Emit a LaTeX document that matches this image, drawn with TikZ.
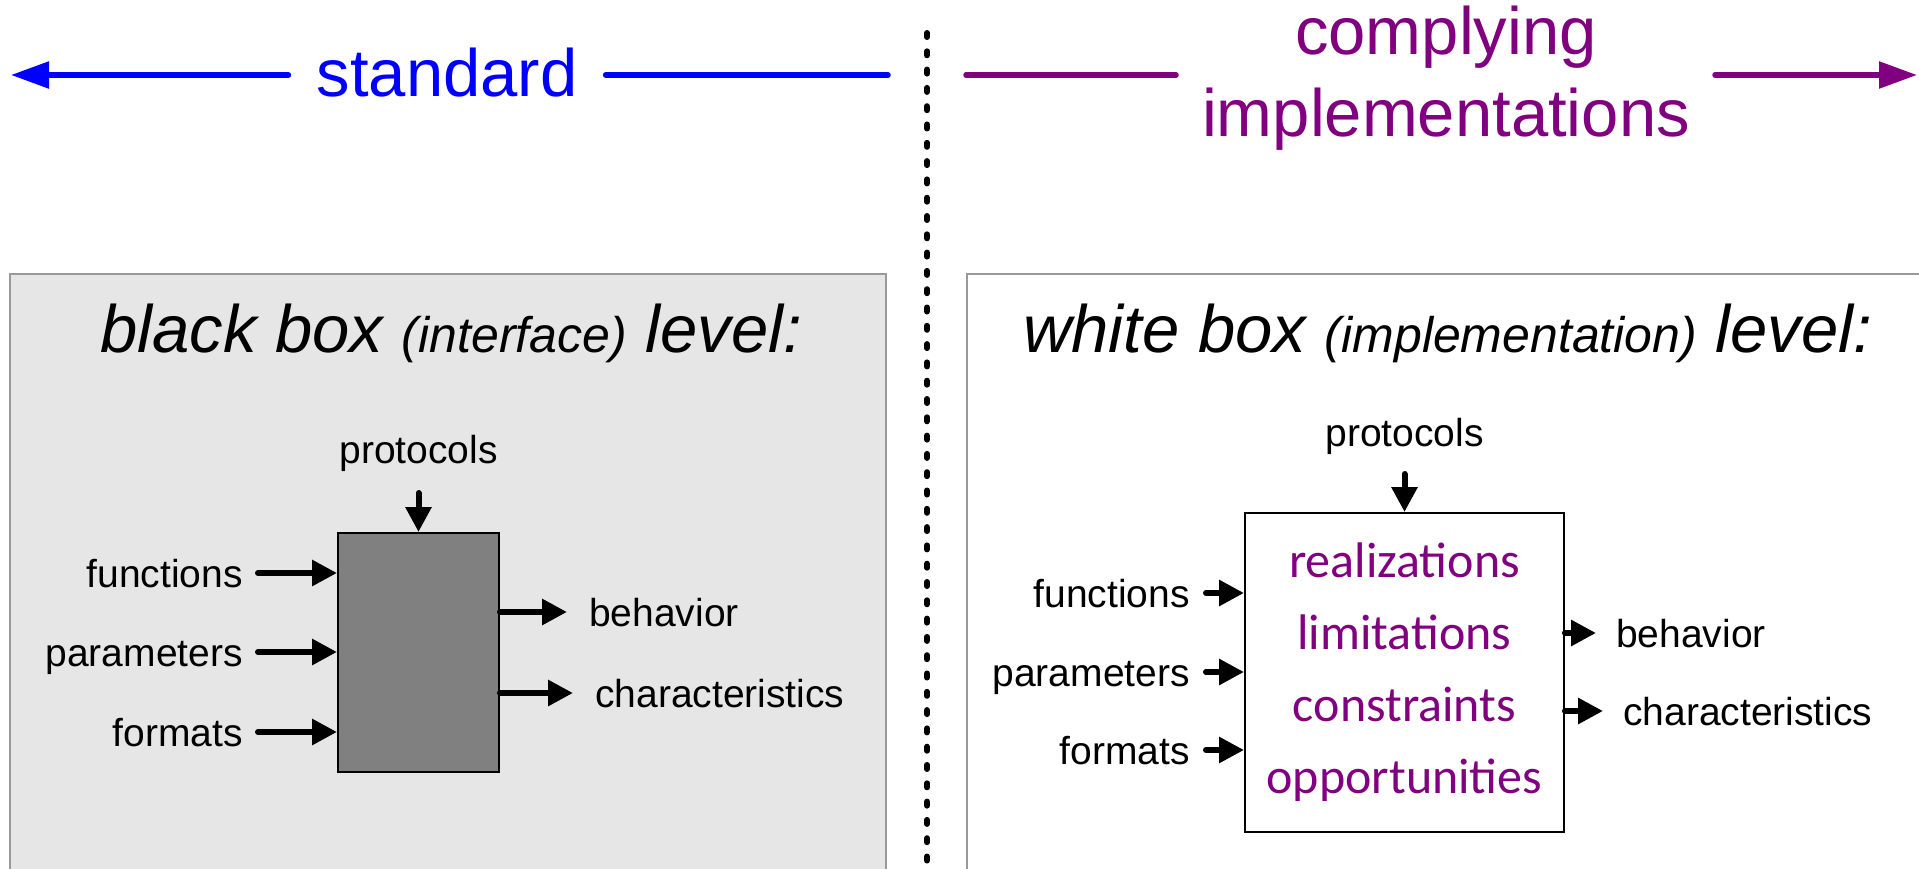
\documentclass[tikz,border=0pt]{standalone}
\usepackage{fontspec}
\setmainfont{Liberation Sans}
\newfontfamily\termfont{Carlito}
\usepackage{xcolor}
\usepackage{tikz}
\usetikzlibrary{positioning, arrows.meta}

\definecolor{stdblue}{HTML}{0000FF}
\definecolor{implpurple}{HTML}{800080}
\definecolor{panelgray}{HTML}{E6E6E6}
\definecolor{panelline}{HTML}{999999}
\definecolor{boxgray}{HTML}{808080}

\tikzset{
  bigtext/.style={font=\fontsize{67}{82}\selectfont, inner sep=0pt},
  titletext/.style={font=\fontsize{67}{80}\itshape, inner sep=0pt, anchor=base west},
  lbl/.style={font=\fontsize{39}{45}\selectfont, inner sep=0pt, text height=28pt, text depth=0pt},
  flow/.style={line width=6pt, line cap=round, -{Triangle[length=25pt,width=25pt]}},
  headline/.style={line width=5.5pt, line cap=round},
  divider/.style={line width=6pt, line cap=round, dash pattern=on 4pt off 14.3pt},
}

\begin{document}
\begin{tikzpicture}[x=1pt, y=-1pt]
    \useasboundingbox (0,0) rectangle (1919,869);
    \clip (0,0) rectangle (1919,869);

    % headings over the two halves
    \node[bigtext, text=stdblue, text height=44pt, text depth=0pt, inner xsep=28pt] (std) at (447,75) {standard};
    \coordinate (stdL) at (11,75);
    \coordinate (stdR) at (888,75);
    \draw[headline, stdblue, -{Triangle[length=38pt,width=26pt]}] (std.west) -- (stdL);
    \draw[headline, stdblue] (std.east) -- (stdR);

    \node[bigtext, text=implpurple, anchor=base] (cmp) at (1446,55) {complying};
    \node[bigtext, text=implpurple, anchor=base] (impl) at (1446,137) {implementations};
    \coordinate (implLa) at (966,75);
    \coordinate (implLb) at (1176,75);
    \coordinate (implRa) at (1715,75);
    \coordinate (implRb) at (1917,75);
    \draw[headline, implpurple] (implLa) -- (implLb);
    \draw[headline, implpurple, -{Triangle[length=38pt,width=26pt]}] (implRa) -- (implRb);

    % dotted border between standard and implementations
    \coordinate (divTop) at (927,33);
    \coordinate (divBot) at (927,880);
    \draw[divider] (divTop) -- (divBot);

    % the two panels
    \draw[panelline, fill=panelgray, line width=2.5pt] (10,274) rectangle (886,900);
    \draw[panelline, fill=white, line width=2.5pt] (967,274) rectangle (1940,900);

    \node[titletext] (btitle) at (100,352) {black box {\fontsize{50}{60}\selectfont (interface)} level:};
    \node[titletext] (wtitle) at (1023,352) {white box {\fontsize{50}{60}\selectfont (implementation)} level:};

    % black box
    \node[draw=black, fill=boxgray, line width=2pt, minimum width=161pt, minimum height=239pt, inner sep=0pt] (bbox) at (418.5,652.5) {};
    \node[lbl, anchor=base] (bproto) at (418.5,463) {protocols};
    \draw[flow] ([yshift=-30pt]bproto.base) -- (bbox.north);
    \foreach \nm/\txt/\y in {bfun/functions/573, bpar/parameters/652, bfor/formats/732} {
        \node[lbl, anchor=east] (\nm) at (243,\y) {\txt};
        \draw[flow] ([xshift=15pt]\nm.east) -- (bbox.west |- \nm.east);
    };
    \foreach \nm/\txt/\x/\y in {bbeh/behavior/589/612, bchr/characteristics/595/693} {
        \node[lbl, anchor=west] (\nm) at (\x,\y) {\txt};
        \draw[flow] (bbox.east |- \nm.west) -- ([xshift=-22pt]\nm.west);
    };

    % white box
    \node[draw=black, fill=white, line width=2pt, minimum width=319pt, minimum height=319pt, inner sep=0pt,
          align=center, text=implpurple, font=\termfont\fontsize{50}{72}\selectfont] (wbox) at (1404.5,672.5)
          {realizations\\limitations\\constraints\\opportunities};
    \node[lbl, anchor=base] (wproto) at (1404.5,446) {protocols};
    \draw[flow] ([yshift=-28pt]wproto.base) -- (wbox.north);
    \foreach \nm/\txt/\y in {wfun/functions/593, wpar/parameters/672, wfor/formats/750} {
        \node[lbl, anchor=east] (\nm) at (1190,\y) {\txt};
        \draw[flow] ([xshift=16pt]\nm.east) -- (wbox.west |- \nm.east);
    };
    \foreach \nm/\txt/\x/\y in {wbeh/behavior/1616/633, wchr/characteristics/1623/711} {
        \node[lbl, anchor=west] (\nm) at (\x,\y) {\txt};
        \draw[flow] (wbox.east |- \nm.west) -- ([xshift=-20pt]\nm.west);
    };
\end{tikzpicture}
\end{document}
